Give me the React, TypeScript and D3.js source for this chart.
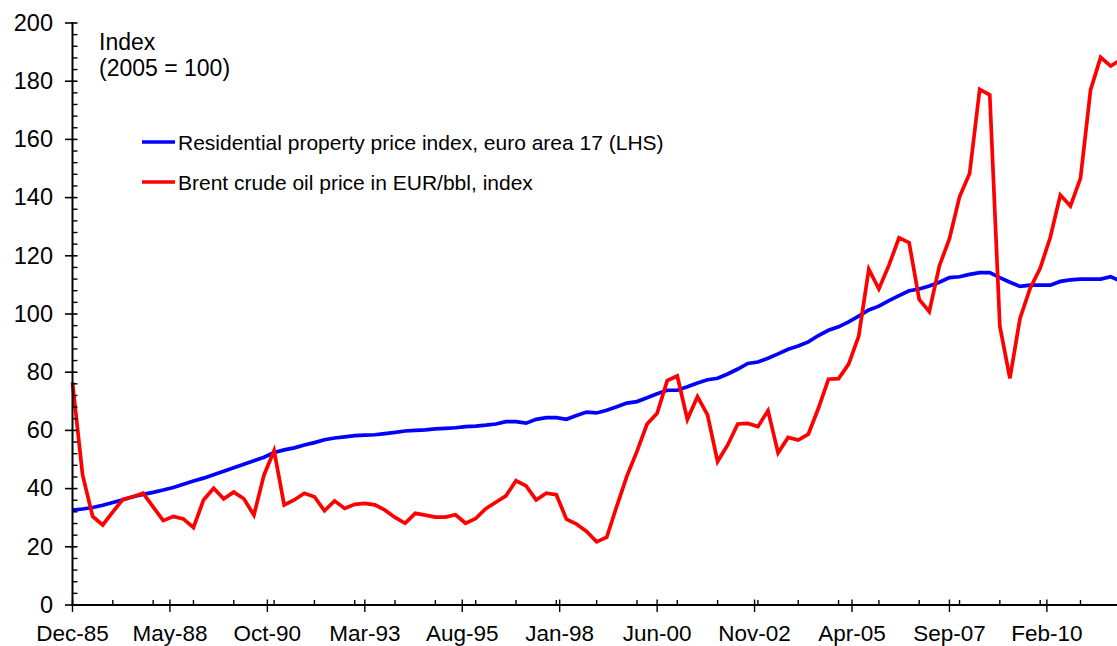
import React from "react";
import * as d3 from "d3";

// Quarterly observations starting Dec-85 (month offset 0), every 3 months
const startYear = 1985;
const startMonth = 11; // December (0-based)
const stepMonths = 3;
const axisMonths = 312; // Dec-85 .. Dec-11
const majorStepMonths = 29;
const minorStepMonths = 12;

const yTicks = [0, 20, 40, 60, 80, 100, 120, 140, 160, 180, 200];

const propertyIndex = [
  32.6, 33.0, 33.5, 34.3, 35.2, 36.2, 37.2, 38.0, 38.7, 39.5,
  40.4, 41.5, 42.6, 43.6, 44.8, 46.0, 47.2, 48.4, 49.6, 50.8,
  52.4, 53.3, 54.0, 55.0, 55.8, 56.8, 57.4, 57.8, 58.2, 58.4,
  58.5, 58.9, 59.3, 59.8, 60.0, 60.2, 60.5, 60.7, 60.9, 61.3,
  61.5, 61.8, 62.2, 63.0, 63.0, 62.5, 63.8, 64.4, 64.4, 63.8,
  65.1, 66.3, 66.0, 66.9, 68.1, 69.4, 69.9, 71.2, 72.6, 73.8,
  73.8, 75.0, 76.3, 77.4, 77.9, 79.4, 81.1, 83.0, 83.5, 84.8,
  86.3, 87.9, 89.0, 90.4, 92.6, 94.4, 95.6, 97.3, 99.3, 101.4,
  102.7, 104.6, 106.3, 108.0, 108.6, 109.6, 110.9, 112.5, 112.8, 113.6,
  114.2, 114.2, 112.5, 110.9, 109.5, 109.9, 109.9, 109.9, 111.2, 111.7,
  112.0, 112.0, 112.0, 112.8, 111.3,
];

const brentIndex = [
  76.5, 44.7, 30.4, 27.5, 32.0, 36.3, 37.2, 38.4, 33.7, 29.0,
  30.4, 29.6, 26.6, 36.1, 40.1, 36.5, 38.8, 36.5, 30.9, 44.7,
  53.0, 34.4, 36.1, 38.4, 37.2, 32.4, 35.8, 33.2, 34.6, 34.9,
  34.4, 32.6, 30.1, 28.1, 31.5, 30.9, 30.2, 30.2, 31.0, 28.1,
  29.7, 33.1, 35.3, 37.5, 42.7, 40.9, 36.1, 38.4, 37.9, 29.5,
  27.8, 25.3, 21.7, 23.3, 34.0, 44.3, 52.8, 62.2, 65.9, 77.1,
  78.7, 63.8, 71.6, 65.3, 49.3, 55.0, 62.2, 62.4, 61.3, 66.8,
  52.3, 57.6, 56.7, 58.7, 67.6, 77.6, 77.8, 82.8, 92.4, 115.4,
  108.6, 116.8, 126.2, 124.5, 105.0, 100.8, 116.5, 125.9, 140.3, 148.3,
  177.2, 175.3, 95.8, 77.9, 98.5, 108.8, 115.7, 126.3, 140.9, 137.1,
  146.6, 177.0, 188.2, 185.2, 187.4,
];

const legendItems = [
  { label: "Residential property price index, euro area 17 (LHS)", color: "#0000FF" },
  { label: "Brent crude oil price in EUR/bbl, index", color: "#FF0000" },
];

const W = 1117;
const H = 646;
const FONT = "'Liberation Sans', Arial, sans-serif";

const fmt = d3.timeFormat("%b-%y");
const monthLabel = (m: number) => fmt(new Date(startYear, startMonth + m, 1));

export default function App() {
  const x = d3.scaleLinear().domain([0, axisMonths]).range([72.5, 1120.8]);
  const y = d3.scaleLinear().domain([0, 200]).range([605, 23]);

  const line = d3
    .line<number>()
    .x((_, i) => x(i * stepMonths))
    .y((d) => y(d));

  const majorX = d3.range(0, axisMonths, majorStepMonths);
  const minorX = d3.range(minorStepMonths, axisMonths + 1, minorStepMonths);
  const minorY = d3.range(0, 201, 4).filter((v) => v % 20 !== 0);

  return (
    <svg
      width={W}
      height={H}
      style={{ position: "absolute", left: 0, top: 0, display: "block", background: "#fff" }}
      fontFamily={FONT}
    >
      <rect x={0} y={0} width={W} height={H} fill="#fff" />
      {/* Lines */}
      <path d={line(propertyIndex) || ""} fill="none" stroke="#0000FF" strokeWidth={3.7} />
      <path d={line(brentIndex) || ""} fill="none" stroke="#FF0000" strokeWidth={3.7} />

      {/* Y axis */}
      <line x1={72.5} x2={72.5} y1={y(200) - 1} y2={y(0) + 1} stroke="#000" strokeWidth={2} />
      {yTicks.map((t) => (
        <g key={"yt" + t}>
          <line x1={65} x2={77.5} y1={y(t)} y2={y(t)} stroke="#000" strokeWidth={1.6} />
          <text x={53} y={y(t) + 7.8} textAnchor="end" fontSize={23.5} fill="#000">
            {t}
          </text>
        </g>
      ))}
      {minorY.map((t) => (
        <line key={"ym" + t} x1={72.5} x2={77.5} y1={y(t)} y2={y(t)} stroke="#000" strokeWidth={1.4} />
      ))}

      {/* X axis */}
      <line x1={71.5} x2={W} y1={605} y2={605} stroke="#000" strokeWidth={2} />
      {majorX.map((m) => (
        <g key={"xt" + m}>
          <line x1={x(m)} x2={x(m)} y1={599.5} y2={612} stroke="#000" strokeWidth={1.4} />
          <text x={x(m)} y={640.5} textAnchor="middle" fontSize={22.5} fill="#000">
            {monthLabel(m)}
          </text>
        </g>
      ))}
      {minorX.map((m) => (
        <line key={"xm" + m} x1={x(m)} x2={x(m)} y1={600} y2={605} stroke="#000" strokeWidth={1.4} />
      ))}

      {/* Axis title */}
      <text x={99} y={50} fontSize={23} fill="#000">Index</text>
      <text x={99} y={76} fontSize={23} fill="#000">(2005 = 100)</text>

      {/* Legend */}
      {legendItems.map((it, i) => (
        <g key={it.label} transform={`translate(0, ${142 + i * 40})`}>
          <line x1={142} x2={175} y1={0} y2={0} stroke={it.color} strokeWidth={3.7} />
          <text x={178} y={7.5} fontSize={21} fill="#000">
            {it.label}
          </text>
        </g>
      ))}
    </svg>
  );
}
